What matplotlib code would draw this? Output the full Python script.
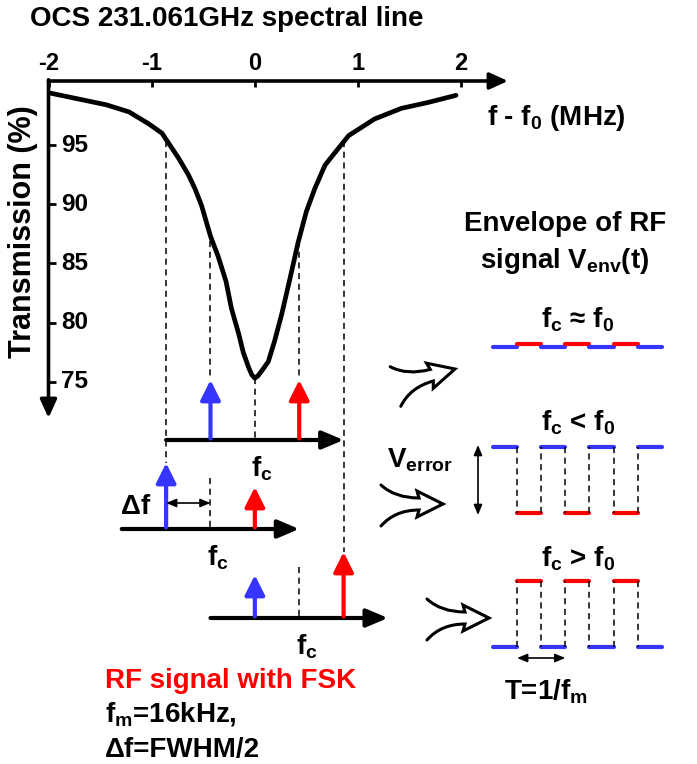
import matplotlib
matplotlib.use("Agg")
import matplotlib.pyplot as plt
import numpy as np
from matplotlib.path import Path
from matplotlib.patches import PathPatch
from matplotlib.transforms import blended_transform_factory

plt.rcParams['font.family'] = ['Liberation Sans', 'DejaVu Sans']
plt.rcParams['font.weight'] = 'bold'
plt.rcParams['mathtext.fontset'] = 'custom'
plt.rcParams['mathtext.rm'] = 'Liberation Sans:bold'
plt.rcParams['mathtext.it'] = 'Liberation Sans:bold'
plt.rcParams['mathtext.bf'] = 'Liberation Sans:bold'

# OCS line
freq_mhz = [-1.99, -1.77, -1.44, -1.22, -1.03, -0.90, -0.74, -0.645, -0.58, -0.517,
            -0.43, -0.356, -0.28, -0.227, -0.155, -0.113, -0.06, -0.03, 0.0, 0.03, 0.065, 0.13,
            0.19, 0.26, 0.34, 0.42, 0.50, 0.58, 0.68, 0.78, 0.91, 1.16, 1.42, 1.68, 1.95]
transmission = [99.4, 99.0, 98.4, 97.8, 96.8, 96.0, 93.9, 92.5, 91.3, 89.9,
                87.3, 85.6, 83.5, 81.2, 79.0, 77.5, 76.2, 75.6, 75.3, 75.5, 75.9, 76.7,
                78.4, 80.7, 83.7, 86.8, 89.4, 91.3, 93.3, 94.4, 95.8, 97.2, 98.1, 98.6, 99.2]
x_ticks = [-2, -1, 0, 1, 2]
y_ticks = [75, 80, 85, 90, 95]

# FSK tones
delta_f = 0.43                      # FWHM/2
fc_cases = [0.0, -0.43, 0.43]       # carrier offset for the three cases
tone_lo_height = [60, 66, 43]       # blue tone (fc - df), px
tone_hi_height = [60, 42, 66]       # red tone (fc + df), px

# dashed guides from the curve
guide_f = [-0.86, -0.43, 0.0, 0.43, 0.86]
guide_T = [95.3, 86.9, 75.3, 86.9, 95.3]
guide_end = [463, 380, 440, 380, 552]

# envelope
env_titles = ['f$_c$ ≈ f$_0$', 'f$_c$ < f$_0$', 'f$_c$ > f$_0$']
fsk_bits = [0, 1, 0, 1, 0, 1, 0]
env_lo_level = [0.0, 1.0, 0.0]
env_hi_level = [0.04, 0.0, 1.0]

BLUE = '#3535ff'
RED = '#ff0000'

fig = plt.figure(figsize=(6.97, 7.64), dpi=100)
ax = fig.add_axes([0, 0, 1, 1])
ax.set_xlim(0, 697)
ax.set_ylim(764, 0)
ax.axis('off')

sp = fig.add_axes([48.5 / 697, 1 - 418 / 764, (461.2 - 48.5) / 697, (418 - 81) / 764])
sp.set_xlim(-2, 2)
sp.set_ylim(71.94, 100.41)
sp.patch.set_visible(False)
for s in sp.spines.values():
    s.set_visible(False)
sp.plot(freq_mhz, transmission, color='black', lw=3.4,
        solid_capstyle='round', solid_joinstyle='round')
sp.xaxis.tick_top()
sp.set_xticks(x_ticks)
sp.set_xticklabels([str(t) for t in x_ticks])
sp.set_yticks(y_ticks)
sp.tick_params(axis='x', direction='in', length=4, width=2, pad=4, labelsize=17)
sp.tick_params(axis='y', direction='in', length=5, width=2, labelleft=False)
sp.tick_params(which='both', right=False, bottom=False)

blend_y = blended_transform_factory(ax.transData, sp.transData)
for t in y_ticks:
    ax.text(61, t, str(t), transform=blend_y, ha='left', va='center', fontsize=17.5)

# axis arrows
ax.annotate('', xy=(508, 81), xytext=(48.5, 81),
            arrowprops=dict(arrowstyle='-|>,head_length=1.1,head_width=0.5', lw=2.6,
                            color='black', shrinkA=0, shrinkB=0))
ax.annotate('', xy=(48.5, 418), xytext=(48.5, 79.8),
            arrowprops=dict(arrowstyle='-|>,head_length=1.1,head_width=0.5', lw=2.6,
                            color='black', shrinkA=0, shrinkB=0))

ax.text(30, 19, 'OCS 231.061GHz spectral line', ha='left', va='center', fontsize=20)
ax.text(487, 118, 'f - f$_0$ (MHz)', ha='left', va='center', fontsize=20)
ax.text(23, 232, 'Transmission (%)', rotation=90, ha='center', va='center', fontsize=22)

# f -> px on overlay
fb = blended_transform_factory(sp.transData, ax.transData)


def to_px_y(T):
    disp = sp.transData.transform((0, T))
    return ax.transData.inverted().transform(disp)[1]


dash = dict(color='black', lw=1.1, linestyle=(0, (4, 3)))
for f, T, y1 in zip(guide_f, guide_T, guide_end):
    ax.plot([f, f], [to_px_y(T), y1], transform=fb, **dash)


def arrow(xy, xytext, color, lw=3, hl=1.1, hw=0.55, tr=fb, style='-|>'):
    ax.annotate('', xy=xy, xytext=xytext, xycoords=tr, textcoords=tr,
                arrowprops=dict(arrowstyle=f'{style},head_length={hl},head_width={hw}',
                                lw=lw, color=color, shrinkA=0, shrinkB=0))


row_y = [440, 529, 618]
for i, fc in enumerate(fc_cases):
    y0 = row_y[i]
    arrow((fc + 2 * delta_f, y0), (fc - 2 * delta_f, y0), 'black', hl=1.3, hw=0.55)
    arrow((fc - delta_f, y0 - tone_lo_height[i]), (fc - delta_f, y0 - 1.5), BLUE, hl=1.2, hw=0.6)
    arrow((fc + delta_f, y0 - tone_hi_height[i]), (fc + delta_f, y0 - 1.5), RED, hl=1.2, hw=0.6)
    if i > 0:
        ax.plot([fc, fc], [y0 - 51, y0], transform=fb, **dash)
    ax.text(fc, y0 + 29, '  f$_c$', transform=fb, ha='center', va='center', fontsize=20)

# delta f marker
arrow((-0.43, 503), (-0.86, 503), 'black', lw=1.2, hl=0.6, hw=0.25, style='<|-|>')
ax.text(-0.86, 507, 'Δf  ', transform=fb, ha='right', va='center', fontsize=20)

ax.text(105, 681, 'RF signal with FSK', color=RED, ha='left', va='center', fontsize=20)
ax.text(105, 714, 'f$_m$=16kHz,', ha='left', va='center', fontsize=20)
ax.text(105, 750, 'Δf=FWHM/2', ha='left', va='center', fontsize=20)


# swoosh arrows
def swoosh(tx, ty, ang):
    verts = np.array([(-62, -19), (-48, -6), (-24, -6), (-26, -13), (0, 0),
                      (-26, 13), (-24, 6), (-48, 6), (-62, 22)], float)
    codes = [Path.MOVETO, Path.CURVE3, Path.CURVE3, Path.LINETO, Path.LINETO,
             Path.LINETO, Path.LINETO, Path.CURVE3, Path.CURVE3]
    a = np.radians(ang)
    c, s = np.cos(a), np.sin(a)
    x = c * verts[:, 0] + s * verts[:, 1] + tx
    y = -s * verts[:, 0] + c * verts[:, 1] + ty
    ax.add_patch(PathPatch(Path(np.column_stack([x, y]), codes), fill=False,
                           ec='black', lw=2.2, joinstyle='miter', capstyle='round'))


swoosh(455, 369, 15)
swoosh(443, 504, 0)
swoosh(489, 618, 0)

# envelope panel
ax.text(565, 224, 'Envelope of RF', ha='center', va='center', fontsize=20)
ax.text(565, 261, 'signal V$_{env}$(t)', ha='center', va='center', fontsize=20)

env_title_y = [320, 423, 559]
env_base = [347, 513, 647]
amp = 66
x0, w = 493, 24.1
for i in range(3):
    ax.text(578, env_title_y[i], env_titles[i], ha='center', va='center', fontsize=20)
    ys = []
    for k, b in enumerate(fsk_bits):
        lvl = env_hi_level[i] if b else env_lo_level[i]
        y = env_base[i] - lvl * amp
        ys.append(y)
        ax.plot([x0 + k * w, x0 + (k + 1) * w], [y, y], color=RED if b else BLUE,
                lw=3, solid_capstyle='round')
    if i > 0:
        for k in range(1, len(fsk_bits)):
            ax.plot([x0 + k * w] * 2, [ys[k - 1], ys[k]], **dash)

arrow((478, 445), (478, 515), 'black', lw=1.2, hl=0.6, hw=0.25, style='<|-|>', tr=ax.transData)
ax.text(387, 467, 'V$_{error}$', ha='left', va='baseline', fontsize=20)
arrow((x0 + 3 * w, 658), (x0 + w, 658), 'black', lw=1.2, hl=0.6, hw=0.25, style='<|-|>',
      tr=ax.transData)
ax.text(546, 692, 'T=1/f$_m$', ha='center', va='center', fontsize=20)

fig.savefig('out.png', dpi=100)
